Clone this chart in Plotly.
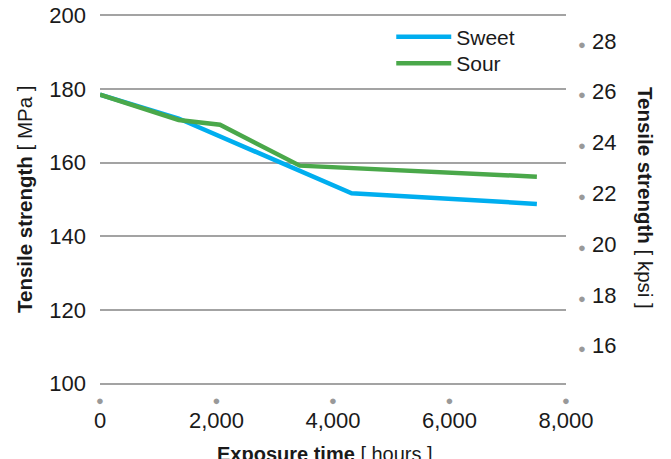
import plotly.graph_objects as go

# ---- data ----
hours_sweet = [0, 1350, 4320, 7500]
mpa_sweet = [178.5, 172.0, 151.7, 148.8]
hours_sour = [0, 1350, 2060, 3430, 7500]
mpa_sour = [178.5, 171.6, 170.3, 159.2, 156.2]

x_ticks = [0, 2000, 4000, 6000, 8000]
x_ticktext = ["0", "2,000", "4,000", "6,000", "8,000"]
mpa_ticks = [100, 120, 140, 160, 180, 200]
kpsi_ticks = [16, 18, 20, 22, 24, 26, 28]
MPA_PER_KPSI = 6.894757

FONT = "Liberation Sans, Arial, sans-serif"
DOT = "#999999"
TXT = "#1a1a1a"
Y_RANGE = [99.6, 200.4]
PLOT_TOP, PLOT_H = 14.2, 370.6

fig = go.Figure()
fig.add_trace(go.Scatter(x=hours_sweet, y=mpa_sweet, name="Sweet", mode="lines",
                         line=dict(color="#00AEEF", width=4.5), legend="legend"))
fig.add_trace(go.Scatter(x=hours_sour, y=mpa_sour, name="Sour", mode="lines",
                         line=dict(color="#4AA84A", width=4.5), legend="legend2"))
# empty traces so that overlay axes are rendered
fig.add_trace(go.Scatter(x=[], y=[], xaxis="x2", yaxis="y", showlegend=False, hoverinfo="skip"))
fig.add_trace(go.Scatter(x=[], y=[], xaxis="x", yaxis="y2", showlegend=False, hoverinfo="skip"))

legend_common = dict(xanchor="left", yanchor="top", itemwidth=55,
                     bgcolor="rgba(0,0,0,0)", font=dict(size=21, color=TXT))

fig.update_layout(
    width=671, height=459,
    margin=dict(l=100, r=105, t=PLOT_TOP, b=459 - PLOT_TOP - PLOT_H, autoexpand=False),
    paper_bgcolor="white", plot_bgcolor="white",
    font=dict(family=FONT, size=20, color=TXT),
    showlegend=True,
    legend=dict(x=0.625, y=1 - (16.7 - PLOT_TOP) / PLOT_H, **legend_common),
    legend2=dict(x=0.625, y=1 - (43.3 - PLOT_TOP) / PLOT_H, **legend_common),
    xaxis=dict(range=[0, 8000], tickvals=x_ticks, ticktext=x_ticktext,
               showgrid=False, zeroline=False, showline=False, ticks="",
               tickfont=dict(size=22, color=TXT), ticklabelstandoff=20),
    xaxis2=dict(overlaying="x", anchor="y", side="bottom", range=[0, 8000],
                tickvals=x_ticks, ticktext=["●"] * len(x_ticks),
                showgrid=False, zeroline=False, showline=False, ticks="",
                tickfont=dict(size=13, color=DOT), ticklabelstandoff=6),
    yaxis=dict(range=Y_RANGE, tickvals=mpa_ticks, showgrid=True,
               gridcolor="#a3a3a3", gridwidth=1.5, zeroline=False, showline=False,
               ticks="", tickfont=dict(size=22, color=TXT), ticklabelstandoff=13),
    yaxis2=dict(overlaying="y", side="right", anchor="x",
                range=[Y_RANGE[0] / MPA_PER_KPSI, Y_RANGE[1] / MPA_PER_KPSI],
                tickvals=kpsi_ticks,
                ticktext=[f"<span style='font-size:13px;color:{DOT}'>●</span> {v}" for v in kpsi_ticks],
                showgrid=False, zeroline=False, showline=False, ticks="",
                tickfont=dict(size=22, color=TXT), ticklabelstandoff=11),
    annotations=[
        dict(text="<b>Tensile strength</b> [ MPa ]", xref="paper", yref="paper",
             x=(24 - 100) / 466, y=1 - (200 - PLOT_TOP) / PLOT_H, xanchor="center", yanchor="middle",
             textangle=-90, showarrow=False, font=dict(size=20.5, color=TXT)),
        dict(text="<b>Tensile strength</b> [ kpsi ]", xref="paper", yref="paper",
             x=(645 - 100) / 466, y=1 - (198 - PLOT_TOP) / PLOT_H, xanchor="center", yanchor="middle",
             textangle=90, showarrow=False, font=dict(size=20.5, color=TXT)),
        dict(text="<b>Exposure time</b> [ hours ]", xref="paper", yref="paper",
             x=(325 - 100) / 466, y=-(454 - PLOT_TOP - PLOT_H) / PLOT_H, xanchor="center", yanchor="middle",
             showarrow=False, font=dict(size=20, color=TXT)),
    ],
)

fig.write_html("out.html", config={"displayModeBar": False},
               post_script="document.body.style.margin='0px';")
